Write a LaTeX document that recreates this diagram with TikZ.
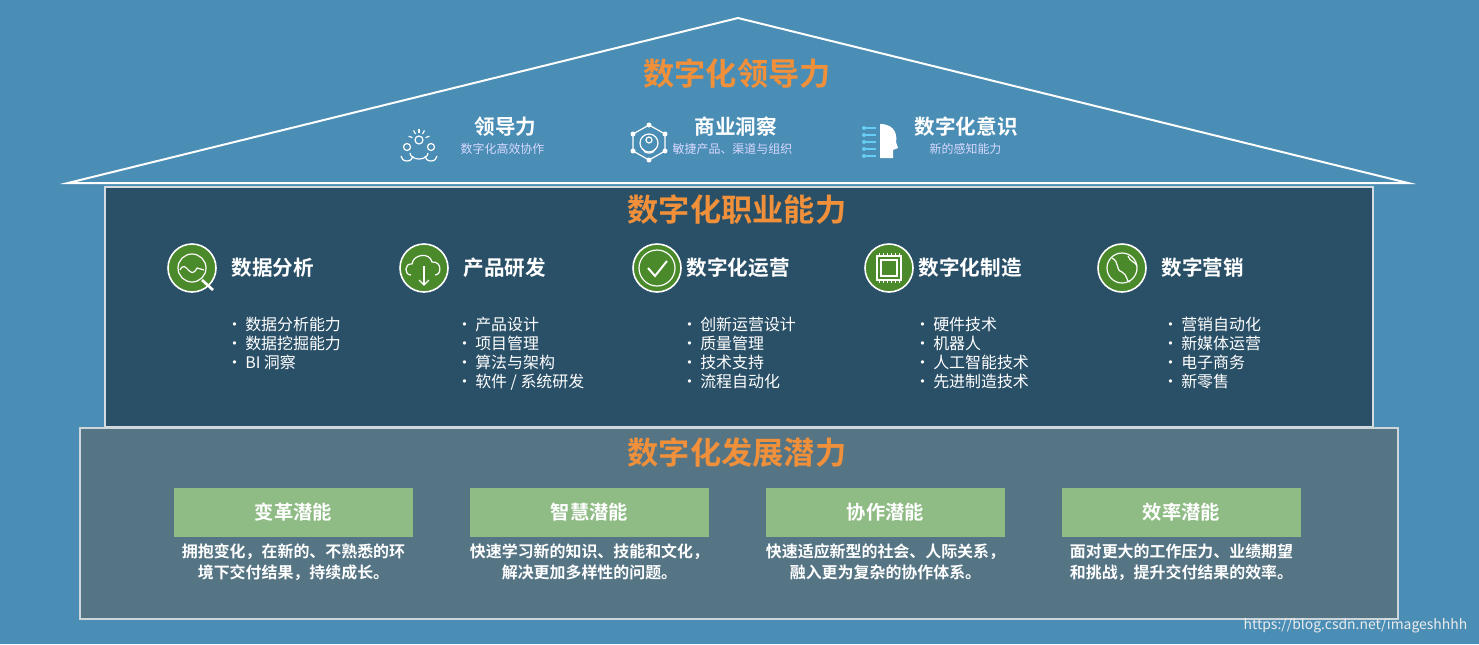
\documentclass[tikz,border=0pt]{standalone}
\usepackage{fontspec}
\setmainfont{Noto Sans CJK SC}
\newfontfamily\cjkb{Noto Sans CJK SC Bold}
\begin{document}
\begin{tikzpicture}[x=0.0264583cm,y=-0.0264583cm,
  title/.style={text=orangeT,font=\cjkb\fontsize{23.5}{26}\selectfont},
  lab/.style={text=white,font=\cjkb\fontsize{15.5}{18}\selectfont,anchor=west},
  sub/.style={text=white!85!blue,font=\fontsize{9}{11}\selectfont,anchor=west},
  bul/.style={text=white,font=\fontsize{12}{14.3}\selectfont,anchor=west,align=left},
  gbox/.style={fill=gboxC,draw=none,minimum width=239*0.0264583cm,minimum height=49*0.0264583cm,text=white,font=\cjkb\fontsize{14.5}{17}\selectfont},
  desc/.style={text=white,font=\cjkb\fontsize{12}{16}\selectfont,align=center,anchor=north},
  gicon/.style={circle,fill=iconG,draw=white,line width=1.2pt,minimum size=48*0.0264583cm,inner sep=0pt},
  ic/.style={draw=white,line width=0.9pt}]
\definecolor{bg}{HTML}{4A8DB5}
\definecolor{midC}{HTML}{2A5068}
\definecolor{botC}{HTML}{557484}
\definecolor{orangeT}{HTML}{F0903A}
\definecolor{gboxC}{HTML}{8FBC85}
\definecolor{iconG}{HTML}{4A8A2A}
\fill[bg] (0,0) rectangle (1479,644);
\useasboundingbox (0,0) rectangle (1479,644);
% roof
\coordinate (rl) at (68,183); \coordinate (ra) at (738,18); \coordinate (rr) at (1408,183);
\draw[white,line width=1.5pt,line join=miter] (rl) -- (ra) -- (rr) -- cycle;
% middle
\node[draw=white!80!midC,fill=midC,line width=1.2pt,minimum width=1268*0.0264583cm,minimum height=240*0.0264583cm,anchor=north west,inner sep=0pt] (mid) at (104,186) {};
\node[draw=white!70!botC,fill=botC,line width=1.2pt,minimum width=1318*0.0264583cm,minimum height=191*0.0264583cm,anchor=north west,inner sep=0pt] (bot) at (79,427) {};
% titles
\node[title] (t1) at (737,74) {数字化领导力};
\node[title] (t2) at (737,210) {数字化职业能力};
\node[title] (t3) at (737,453) {数字化发展潜力};
% roof items
\node[lab] (l1) at (470,127) {领导力};
\node[sub] (s1) at (456,149) {数字化高效协作};
\node[lab] (l2) at (690,127) {商业洞察};
\node[sub] (s2) at (668,149) {敏捷产品、渠道与组织};
\node[lab] (l3) at (910,127) {数字化意识};
\node[sub] (s3) at (925,149) {新的感知能力};
% roof icons (simple)
\begin{scope}[ic]
 \draw (419,140) circle (4); \draw (407,147) circle (3.5); \draw (431,147) circle (3.5);
 \draw (410,153) arc(180:0:9 and 6); \draw (401,156) arc(180:0:6 and 5); \draw (425,156) arc(180:0:6 and 5);
 \foreach \a in {200,240,270,300,340} \draw (419,140)++(\a:7) -- ++(\a:4);
 \draw (649,125)--(665,134)--(665,151)--(649,160)--(633,151)--(633,134)--cycle;
 \foreach \p in {(649,125),(665,134),(665,151),(649,160),(633,151),(633,134)} \fill[white] \p circle (2.5);
 \draw (649,143) circle (9); \draw (649,140) circle (3); \draw (643,149) arc(180:0:6 and 4);
\end{scope}
\fill[white] (880,124) .. controls (897,124) and (897,138) .. (896,142) -- (898,148) -- (893,150) -- (893,158) -- (880,158) -- cycle;
\foreach \yy in {128,135,142,149,156} {\draw[cyan!60,line width=1pt] (876,\yy) -- (866,\yy); \fill[cyan!60] (864,\yy) circle (2);}
% icons
\node[gicon] (i1) at (192,268) {}; \node[gicon] (i2) at (424,268) {}; \node[gicon] (i3) at (657,268) {};
\node[gicon] (i4) at (889,268) {}; \node[gicon] (i5) at (1122,268) {};
\draw[ic] (i1) circle (14); \draw[ic] (180,270) .. controls (186,258) and (190,282) .. (197,268) -- (204,270); \draw[ic,line width=2pt] (202,280) -- (213,290);
\draw[ic] (411,275) .. controls (404,275) and (404,263) .. (412,264) .. controls (413,254) and (430,252) .. (432,262) .. controls (442,261) and (442,275) .. (435,275); \draw[ic] (424,266) -- (424,285); \draw[ic] (419,280) -- (424,285) -- (429,280);
\draw[ic] (i3) circle (18); \draw[ic,line width=1.5pt] (648,268) -- (655,276) -- (667,261);
\draw[ic] (877,256) rectangle (901,280); \draw[ic] (881,260) rectangle (897,276);
\foreach \k in {0,...,5} {\draw[white] (879+\k*4,253)--(879+\k*4,256); \draw[white] (879+\k*4,280)--(879+\k*4,283);}
\draw[ic] (i5) circle (15); \draw[ic] (1112,258) .. controls (1120,262) and (1115,270) .. (1122,272) .. controls (1128,275) and (1126,282) .. (1130,282); \draw[ic] (1128,256) .. controls (1130,262) and (1136,262) .. (1137,266);
% labels
\node[lab] (a1) at (227,268) {数据分析};
\node[lab] (a2) at (459,268) {产品研发};
\node[lab] (a3) at (682,268) {数字化运营};
\node[lab] (a4) at (914,268) {数字化制造};
\node[lab] (a5) at (1157,268) {数字营销};
\node[bul,anchor=north west] (b1) at (222,312) {•\,数据分析能力\\•\,数据挖掘能力\\•\,BI 洞察};
\node[bul,anchor=north west] (b2) at (452,312) {•\,产品设计\\•\,项目管理\\•\,算法与架构\\•\,软件 / 系统研发};
\node[bul,anchor=north west] (b3) at (677,312) {•\,创新运营设计\\•\,质量管理\\•\,技术支持\\•\,流程自动化};
\node[bul,anchor=north west] (b4) at (910,312) {•\,硬件技术\\•\,机器人\\•\,人工智能技术\\•\,先进制造技术};
\node[bul,anchor=north west] (b5) at (1158,312) {•\,营销自动化\\•\,新媒体运营\\•\,电子商务\\•\,新零售};
% bottom
\node[gbox] (g1) at (293.5,512.5) {变革潜能};
\node[gbox] (g2) at (589.5,512.5) {智慧潜能};
\node[gbox] (g3) at (885.5,512.5) {协作潜能};
\node[gbox] (g4) at (1181.5,512.5) {效率潜能};
\node[desc] (d1) at (293.5,539) {拥抱变化，在新的、不熟悉的环\\境下交付结果，持续成长。};
\node[desc] (d2) at (589.5,539) {快速学习新的知识、技能和文化，\\解决更加多样性的问题。};
\node[desc] (d3) at (885.5,539) {快速适应新型的社会、人际关系，\\融入更为复杂的协作体系。};
\node[desc] (d4) at (1181.5,539) {面对更大的工作压力、业绩期望\\和挑战，提升交付结果的效率。};
\node[text=white!85!gray,font=\fontsize{10.5}{12}\selectfont,anchor=east] (wm) at (1472,626) {https://blog.csdn.net/imageshhhh};
\end{tikzpicture}
\end{document}
